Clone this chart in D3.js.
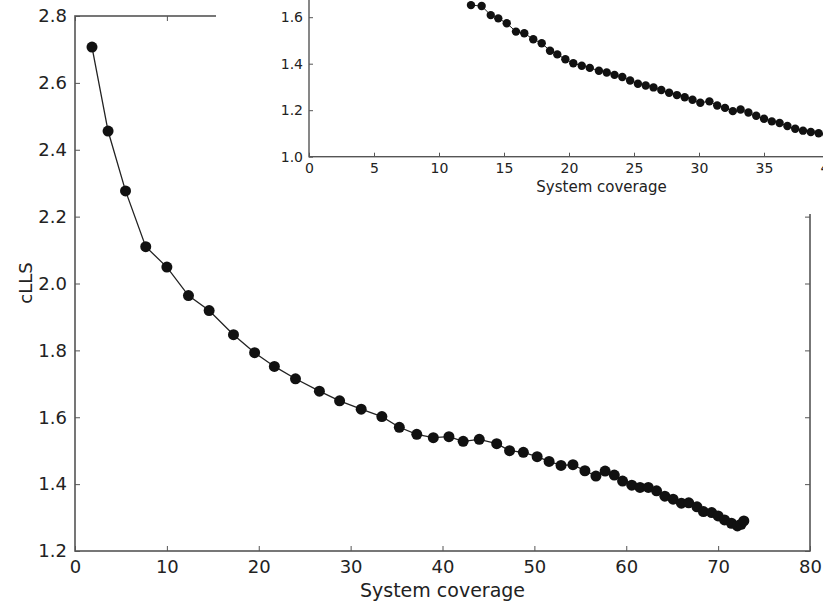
<!DOCTYPE html>
<html>
<head>
<meta charset="utf-8">
<script src="https://cdn.jsdelivr.net/npm/d3@7"></script>
<style>
  body { margin:0; background:#fff; }
  text { font-family: "DejaVu Sans", sans-serif; fill:#222; }
</style>
</head>
<body>
<svg id="chart" width="823" height="605"></svg>
<script>
"use strict";

// main curve: system coverage vs cLLS
const mainX = [1.85,3.6,5.5,7.7,10.0,12.35,14.6,17.25,19.55,21.7,24.0,26.6,28.8,31.15,33.4,35.3,37.2,39.0,40.7,42.25,44.0,45.9,47.3,48.8,50.3,51.6,52.9,54.2,55.5,56.7,57.7,58.7,59.6,60.6,61.5,62.4,63.3,64.2,65.1,66.0,66.8,67.7,68.4,69.3,70.0,70.7,71.45,72.1,72.5,72.8];
const mainY = [2.707,2.456,2.277,2.110,2.049,1.964,1.919,1.847,1.793,1.752,1.715,1.678,1.649,1.624,1.602,1.570,1.549,1.539,1.542,1.528,1.534,1.521,1.500,1.495,1.482,1.468,1.456,1.458,1.440,1.424,1.439,1.427,1.409,1.397,1.390,1.390,1.380,1.364,1.355,1.343,1.344,1.332,1.318,1.315,1.305,1.293,1.283,1.275,1.280,1.290];

// inset curve
const insetX = [12.46,13.28,13.98,14.56,15.21,15.92,16.56,17.25,17.9,18.54,19.1,19.72,20.33,20.98,21.6,22.3,22.9,23.5,24.1,24.7,25.3,25.9,26.5,27.1,27.7,28.3,28.9,29.5,30.1,30.8,31.4,32.0,32.6,33.2,33.8,34.4,35.0,35.6,36.2,36.8,37.4,38.0,38.6,39.2,39.8,40.4];
const insetY = [1.652,1.648,1.609,1.595,1.574,1.538,1.531,1.505,1.488,1.456,1.440,1.419,1.402,1.391,1.382,1.370,1.362,1.352,1.343,1.328,1.314,1.306,1.298,1.287,1.275,1.265,1.256,1.245,1.232,1.238,1.220,1.210,1.196,1.203,1.190,1.176,1.163,1.152,1.145,1.132,1.120,1.112,1.106,1.101,1.097,1.095];

const mainXTicks = [0,10,20,30,40,50,60,70,80];
const mainYTicks = [1.2,1.4,1.6,1.8,2.0,2.2,2.4,2.6,2.8];
const insetXTicks = [0,5,10,15,20,25,30,35,40,45];
const insetYTicks = [1.0,1.2,1.4,1.6];

const svg = d3.select("#chart");
const SPINE = "#555";

// ---- main axes
const x = d3.scaleLinear().domain([0,80]).range([75,810]);
const y = d3.scaleLinear().domain([1.2,2.8]).range([551,16]);
const main = svg.append("g");

const fmt1 = d3.format(".1f");
const axY = main.append("g").attr("transform","translate(75,0)")
  .call(d3.axisLeft(y).tickValues(mainYTicks).tickFormat(fmt1).tickSize(-5).tickPadding(8));
const axYR = main.append("g").attr("transform","translate(810,0)")
  .call(d3.axisRight(y).tickValues(mainYTicks).tickFormat("").tickSize(-5));
const axX = main.append("g").attr("transform","translate(0,551)")
  .call(d3.axisBottom(x).tickValues(mainXTicks).tickFormat(d3.format("d")).tickSize(-5).tickPadding(9));
const axXT = main.append("g").attr("transform","translate(0,16)")
  .call(d3.axisTop(x).tickValues(mainXTicks).tickFormat("").tickSize(-5));
[axY,axYR,axX,axXT].forEach(a=>{
  a.select(".domain").remove();
  a.selectAll("line").attr("stroke",SPINE).attr("stroke-width",1);
  a.selectAll("text").style("font-size","18px").attr("fill","#222");
});
main.append("rect").attr("x",75).attr("y",16).attr("width",735).attr("height",535)
  .attr("fill","none").attr("stroke",SPINE).attr("stroke-width",1.6);

main.append("path")
  .attr("d", d3.line().x(i=>x(mainX[i])).y(i=>y(mainY[i]))(d3.range(mainX.length)))
  .attr("fill","none").attr("stroke","#222").attr("stroke-width",1.3);
main.selectAll("circle.m").data(d3.range(mainX.length)).enter().append("circle")
  .attr("class","m").attr("cx",i=>x(mainX[i])).attr("cy",i=>y(mainY[i])).attr("r",5.5)
  .attr("fill","#111");

main.append("text").attr("x",442.5).attr("y",597).attr("text-anchor","middle")
  .style("font-size","19px").text("System coverage");
main.append("text").attr("transform","translate(32,283) rotate(-90)").attr("text-anchor","middle")
  .style("font-size","18px").text("cLLS");

// ---- inset (covers top-right of the main axes)
const ins = svg.append("g");
ins.append("rect").attr("x",216).attr("y",-2).attr("width",620).attr("height",216).attr("fill","#fff");

const ix = d3.scaleLinear().domain([0,45]).range([309,894]);
const iy = d3.scaleLinear().domain([1.0,1.8]).range([156.7,-29.3]);

ins.append("clipPath").attr("id","insclip").append("rect")
  .attr("x",309).attr("y",-30).attr("width",585).attr("height",186.7);

const iaY = ins.append("g").attr("transform","translate(309,0)")
  .call(d3.axisLeft(iy).tickValues(insetYTicks).tickFormat(fmt1).tickSize(-4).tickPadding(6));
const iaX = ins.append("g").attr("transform","translate(0,156.7)")
  .call(d3.axisBottom(ix).tickValues(insetXTicks).tickFormat(d3.format("d")).tickSize(-4).tickPadding(6));
[iaY,iaX].forEach(a=>{
  a.select(".domain").remove();
  a.selectAll("line").attr("stroke",SPINE).attr("stroke-width",1);
  a.selectAll("text").style("font-size","14px").attr("fill","#222");
});
ins.append("rect").attr("x",309).attr("y",-29.3).attr("width",585).attr("height",186)
  .attr("fill","none").attr("stroke",SPINE).attr("stroke-width",1.4);

const plotI = ins.append("g").attr("clip-path","url(#insclip)");
plotI.append("path")
  .attr("d", d3.line().x(i=>ix(insetX[i])).y(i=>iy(insetY[i]))(d3.range(insetX.length)))
  .attr("fill","none").attr("stroke","#222").attr("stroke-width",1);
plotI.selectAll("circle").data(d3.range(insetX.length)).enter().append("circle")
  .attr("cx",i=>ix(insetX[i])).attr("cy",i=>iy(insetY[i])).attr("r",4.2).attr("fill","#111");

ins.append("text").attr("x",601.5).attr("y",192).attr("text-anchor","middle")
  .style("font-size","15px").text("System coverage");
</script>
</body>
</html>
